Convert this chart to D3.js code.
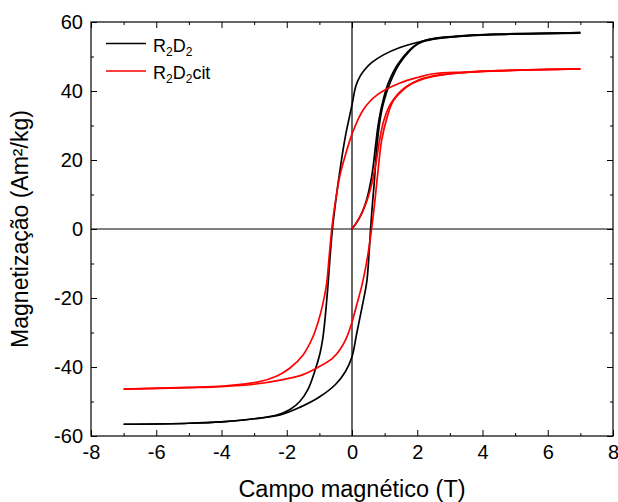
<!DOCTYPE html>
<html>
<head>
<meta charset="utf-8">
<script src="https://cdn.jsdelivr.net/npm/d3@7"></script>
<style>
  html, body { margin: 0; padding: 0; background: #fff; }
  svg { display: block; }
  text { font-family: Arial, "Liberation Sans", sans-serif; fill: #000; }
</style>
</head>
<body>
<svg id="chart" width="618" height="502"></svg>
<script>
// ---- Data (field in T, magnetization in Am²/kg) ----
const seriesNames = ["R2D2", "R2D2cit"];
const seriesColors = ["#000000", "#ff0000"];

const r2d2Virgin = [[0,0],[0.1,1.3],[0.25,3.6],[0.4,7],[0.5,10.4],[0.6,15],[0.66,19],[0.72,24],[0.8,30],[0.92,36],[1.1,42],[1.42,48],[2.0,53.6],[2.5,55],[3.5,56],[5,56.5],[7,56.8]];
const r2d2Desc = [[7,56.9],[5.5,56.6],[4.5,56.4],[3.5,56.0],[2.5,55.2],[2.05,54.2],[1.47,52.6],[0.95,50.4],[0.6,48.2],[0.4,46.3],[0.25,44.3],[0.12,41.5],[0,36],[-0.21,26.5],[-0.37,17],[-0.5,8],[-0.6,0],[-0.68,-9],[-0.74,-16.7],[-0.83,-26.4],[-0.9,-32],[-0.98,-36],[-1.13,-40.9],[-1.35,-46.5],[-1.6,-50],[-1.9,-52.3],[-2.3,-53.9],[-3,-55.0],[-4,-55.9],[-5,-56.3],[-7,-56.6]];
const r2d2Asc = [[-7,-56.6],[-5,-56.3],[-4,-55.9],[-3,-55.0],[-2.2,-53.9],[-1.6,-51.7],[-1,-48.7],[-0.5,-45],[-0.2,-41.3],[0,-37],[0.14,-30.5],[0.3,-23],[0.45,-15.5],[0.52,-7.5],[0.57,0],[0.62,6.5],[0.68,13.2],[0.76,23.5],[0.85,31],[0.96,36.4],[1.16,42.2],[1.47,48.1],[2.05,53.9],[2.5,55.2],[3.5,56.1],[4.5,56.5],[7,56.9]];

const citVirgin = [[0,0],[0.15,2],[0.3,4.6],[0.45,8],[0.55,11],[0.65,15],[0.75,20],[0.85,26],[0.98,31.6],[1.2,36.5],[1.6,40.8],[2.04,43],[3,45],[5,46],[7,46.4]];
const citDesc = [[7,46.4],[4.5,45.9],[3.5,45.5],[2.5,45],[2.04,44],[1.47,42.3],[0.76,38.8],[0.34,34.5],[0,27.5],[-0.2,21.5],[-0.37,15.5],[-0.5,8.5],[-0.62,0],[-0.7,-8],[-0.78,-16],[-0.9,-22],[-1.04,-27],[-1.2,-31.3],[-1.5,-36.5],[-1.9,-40.3],[-2.3,-42.6],[-2.9,-44.4],[-3.95,-45.5],[-5,-45.9],[-7,-46.4]];
const citAsc = [[-7,-46.4],[-5,-46.0],[-4,-45.7],[-3,-45.0],[-2.2,-43.8],[-1.5,-42.2],[-1.08,-40.3],[-0.6,-37.5],[-0.37,-35],[-0.18,-31.8],[0,-27],[0.15,-21.8],[0.3,-16.5],[0.45,-9.5],[0.6,0],[0.7,8],[0.81,18],[0.91,25.8],[1.08,32.5],[1.27,37.2],[1.68,41.2],[2.04,43.2],[2.5,44.4],[3.5,45.4],[4.5,45.9],[7,46.4]];

const xMajorTicks = [-8,-6,-4,-2,0,2,4,6,8];
const xMinorTicks = [-7,-5,-3,-1,1,3,5,7];
const yMajorTicks = [-60,-40,-20,0,20,40,60];
const yMinorTicks = [-50,-30,-10,10,30,50];
const xTitle = "Campo magnético (T)";
const yTitle = "Magnetização (Am²/kg)";

// ---- Layout ----
const L = 91, R = 613, T = 22, B = 436;
const svg = d3.select("#chart");
const x = d3.scaleLinear().domain([-8, 8]).range([L, R]);
const y = d3.scaleLinear().domain([-60, 60]).range([B, T]);

// zero lines
svg.append("line").attr("x1", L).attr("x2", R).attr("y1", y(0)).attr("y2", y(0))
  .attr("stroke", "#000").attr("stroke-width", 1.2);
svg.append("line").attr("x1", x(0)).attr("x2", x(0)).attr("y1", T).attr("y2", B)
  .attr("stroke", "#000").attr("stroke-width", 1.2);

// curves
const line = d3.line().x(d => x(d[0])).y(d => y(d[1])).curve(d3.curveCatmullRom.alpha(0.5));
const groups = [[r2d2Virgin, r2d2Desc, r2d2Asc], [citVirgin, citDesc, citAsc]];
groups.forEach((branches, i) => {
  branches.forEach(br => {
    svg.append("path").attr("d", line(br))
      .attr("fill", "none").attr("stroke", seriesColors[i]).attr("stroke-width", 1.7)
      .attr("stroke-linejoin", "round");
  });
});

// axes
const fmt = d => String(d);
function styleAxis(g) {
  g.select(".domain").remove();
  g.selectAll(".tick line").attr("stroke", "#000").attr("stroke-width", 1);
  g.selectAll(".tick text").style("font-size", "20px").attr("font-family", "Arial, 'Liberation Sans', sans-serif");
}
svg.append("g").attr("transform", `translate(0,${B})`)
  .call(d3.axisBottom(x).tickValues(xMajorTicks).tickSize(-6).tickPadding(9).tickFormat(fmt))
  .call(styleAxis);
svg.append("g").attr("transform", `translate(0,${B})`)
  .call(d3.axisBottom(x).tickValues(xMinorTicks).tickSize(-3).tickFormat(""))
  .call(styleAxis);
svg.append("g").attr("transform", `translate(0,${T})`)
  .call(d3.axisTop(x).tickValues(xMajorTicks).tickSize(-6).tickFormat(""))
  .call(styleAxis);
svg.append("g").attr("transform", `translate(0,${T})`)
  .call(d3.axisTop(x).tickValues(xMinorTicks).tickSize(-3).tickFormat(""))
  .call(styleAxis);
svg.append("g").attr("transform", `translate(${L},0)`)
  .call(d3.axisLeft(y).tickValues(yMajorTicks).tickSize(-6).tickPadding(8).tickFormat(fmt))
  .call(styleAxis);
svg.append("g").attr("transform", `translate(${L},0)`)
  .call(d3.axisLeft(y).tickValues(yMinorTicks).tickSize(-3).tickFormat(""))
  .call(styleAxis);
svg.append("g").attr("transform", `translate(${R},0)`)
  .call(d3.axisRight(y).tickValues(yMajorTicks).tickSize(-6).tickFormat(""))
  .call(styleAxis);
svg.append("g").attr("transform", `translate(${R},0)`)
  .call(d3.axisRight(y).tickValues(yMinorTicks).tickSize(-3).tickFormat(""))
  .call(styleAxis);

// frame
svg.append("rect").attr("x", L).attr("y", T).attr("width", R - L).attr("height", B - T)
  .attr("fill", "none").attr("stroke", "#000").attr("stroke-width", 1.2);

// titles
svg.append("text").attr("x", (L + R) / 2).attr("y", 497).attr("text-anchor", "middle")
  .style("font-size", "23.5px").text(xTitle);
svg.append("text").attr("transform", `translate(28,${(T + B) / 2}) rotate(-90)`)
  .attr("text-anchor", "middle").style("font-size", "23px").text(yTitle);

// legend
const legY = [43.5, 71];
seriesNames.forEach((name, i) => {
  svg.append("line").attr("x1", 106).attr("x2", 146).attr("y1", legY[i]).attr("y2", legY[i])
    .attr("stroke", seriesColors[i]).attr("stroke-width", 1.6);
  const t = svg.append("text").attr("x", 153).attr("y", legY[i] + 8).style("font-size", "18px");
  t.append("tspan").text("R");
  t.append("tspan").attr("dy", 4).style("font-size", "12px").text("2");
  t.append("tspan").attr("dy", -4).text("D");
  t.append("tspan").attr("dy", 4).style("font-size", "12px").text("2");
  if (name.endsWith("cit")) t.append("tspan").attr("dy", -4).text("cit");
});
</script>
</body>
</html>
